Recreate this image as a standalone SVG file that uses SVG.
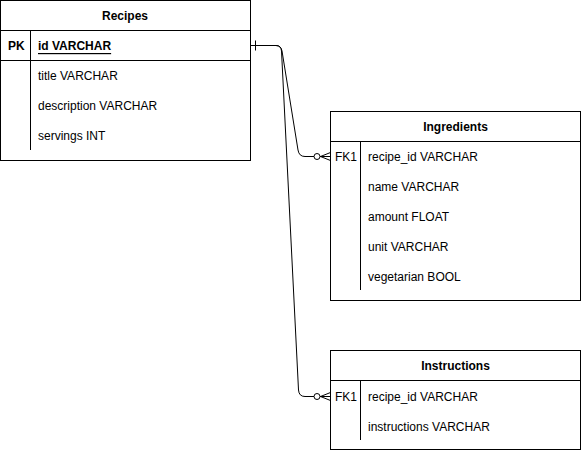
<svg xmlns="http://www.w3.org/2000/svg" width="581" height="451" viewBox="0 0 581 451">
<style>
.box{fill:#fff;stroke:#000;stroke-width:1}
.ln{stroke:#000;stroke-width:1;fill:none}
text{font-family:"Liberation Sans",Arial,Helvetica,sans-serif;font-size:12px;fill:#000;dominant-baseline:central}
.h{font-weight:bold;text-anchor:middle}
.b{font-weight:bold}
.conn{stroke:#000;stroke-width:1;fill:none}
</style>
<defs>
<marker id="one" markerUnits="userSpaceOnUse" markerWidth="20" markerHeight="20" refX="0" refY="10" orient="auto" viewBox="0 0 20 20">
<path d="M5,5 V15" stroke="#000" fill="none"/>
</marker>
<marker id="zeroMany" markerUnits="userSpaceOnUse" markerWidth="20" markerHeight="20" refX="20" refY="10" orient="auto" viewBox="0 0 20 20">
<circle cx="6.5" cy="10" r="3" fill="#fff" stroke="#000"/>
<path d="M20,6 L10,10 L20,14 M10,10 H20" stroke="#000" fill="none"/>
</marker>
</defs>
<g id="connectors">
<path class="conn" d="M250.5,45.5 H276 Q281,45.5 282,51 L298,150 Q299,156.5 305,156.5 H330.5" marker-start="url(#one)" marker-end="url(#zeroMany)"/>
<path class="conn" d="M250.5,45.5 H276 Q281,45.5 281.5,51 L298.5,390 Q299,396.5 305,396.5 H330.5" marker-end="url(#zeroMany)"/>
</g>
<g id="recipes">
<rect class="box" x="0.5" y="0.5" width="250" height="160"/>
<path class="ln" d="M0.5,30.5 H250.5 M0.5,60.5 H250.5 M30.5,30.5 V150"/>
<text class="h" x="125" y="16">Recipes</text>
<text class="b" x="8" y="46">PK</text>
<text class="b" x="38" y="46" text-decoration="underline">id VARCHAR</text>
<text x="38" y="76">title VARCHAR</text>
<text x="38" y="106">description VARCHAR</text>
<text x="38" y="136">servings INT</text>
</g>
<g id="ingredients">
<rect class="box" x="330.5" y="111.5" width="250" height="189"/>
<path class="ln" d="M330.5,141.5 H580.5 M360.5,141.5 V290"/>
<text class="h" x="455.5" y="127">Ingredients</text>
<text x="335" y="157">FK1</text>
<text x="368" y="157">recipe_id VARCHAR</text>
<text x="368" y="187">name VARCHAR</text>
<text x="368" y="217">amount FLOAT</text>
<text x="368" y="247">unit VARCHAR</text>
<text x="368" y="277">vegetarian BOOL</text>
</g>
<g id="instructions">
<rect class="box" x="330.5" y="350.5" width="250" height="99"/>
<path class="ln" d="M330.5,380.5 H580.5 M360.5,380.5 V440"/>
<text class="h" x="455.5" y="366">Instructions</text>
<text x="335" y="397">FK1</text>
<text x="368" y="397">recipe_id VARCHAR</text>
<text x="368" y="427">instructions VARCHAR</text>
</g>
</svg>
